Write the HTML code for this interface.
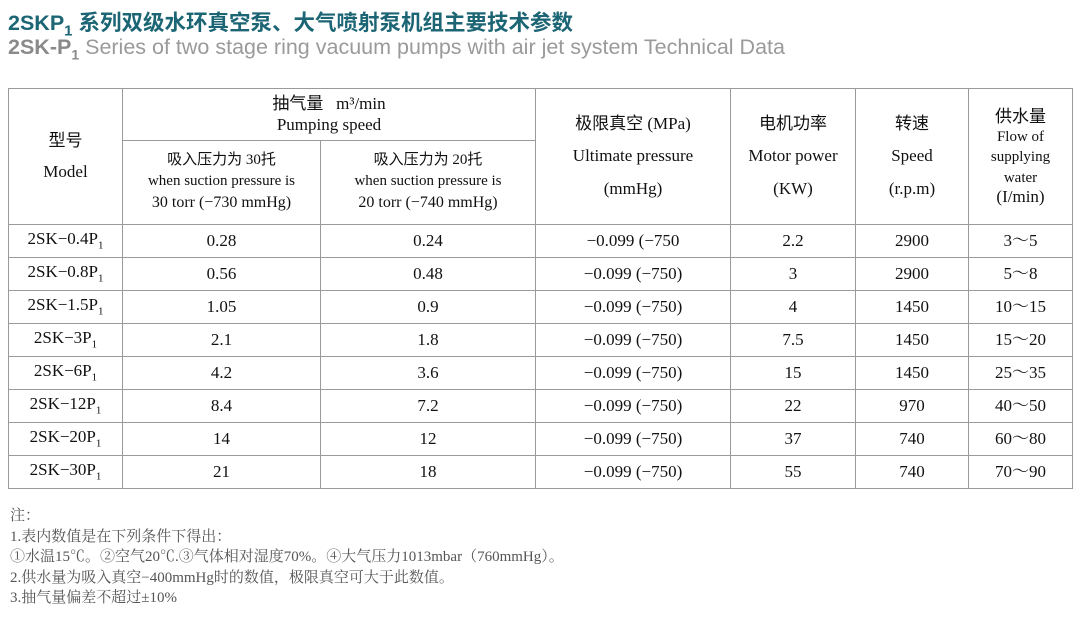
<!DOCTYPE html>
<html><head><meta charset="utf-8"><style>
body{margin:0;width:1090px;height:617px;background:#fff;position:relative;overflow:hidden;font-family:"Liberation Serif","Noto Serif CJK SC",serif;color:#111}
.t1{position:absolute;left:8px;top:6px;font:bold 21.5px "Liberation Sans","Noto Sans CJK SC",sans-serif;color:#1b6574;white-space:nowrap}
.t2{position:absolute;left:8px;top:35px;font:21.5px "Liberation Sans",sans-serif;color:#9a9a9a;white-space:nowrap}
.t2 b{color:#8a8a8a}
table{position:absolute;left:8px;top:88px;border-collapse:collapse;table-layout:fixed}
td{border:1.5px solid #9a9a9a;text-align:center;padding:0;font-size:17px;line-height:1.2;white-space:nowrap}
.s{font-size:15px;line-height:1.4}
.c{font-family:"Liberation Serif","Noto Sans CJK SC",serif}
.r td{height:32px}
sub{font-size:11px}
.n{position:absolute;left:10px;top:506px;font-size:15px;color:#555;line-height:20.5px;white-space:nowrap}
</style></head><body>
<div class="t1">2SKP<sub style="font-size:15px">1</sub> 系列双级水环真空泵、大气喷射泵机组主要技术参数</div>
<div class="t2"><b style="font-weight:bold">2SK-P<sub style="font-size:14px">1</sub></b> Series of two stage ring vacuum pumps with air jet system Technical Data</div>
<table>
<colgroup><col style="width:114px"><col style="width:198px"><col style="width:215px"><col style="width:195px"><col style="width:125px"><col style="width:113px"><col style="width:104px"></colgroup>
<tr style="height:52px"><td rowspan="2" style="line-height:1.8"><span class="c">型号</span><br>Model</td><td colspan="2"><span class="c">抽气量</span>&nbsp;&nbsp; m³/min<br>Pumping speed</td>
<td rowspan="2" style="line-height:1.9"><span class="c">极限真空</span> (MPa)<br>Ultimate pressure<br>(mmHg)</td>
<td rowspan="2" style="line-height:1.9"><span class="c">电机功率</span><br>Motor power<br>(KW)</td>
<td rowspan="2" style="line-height:1.9"><span class="c">转速</span><br>Speed<br>(r.p.m)</td>
<td rowspan="2" style="line-height:1.15"><span class="c">供水量</span><br><span style="font-size:15px">Flow of<br>supplying<br>water</span><br>(I/min)</td></tr>
<tr style="height:84px"><td class="s"><span class="c">吸入压力为</span> 30<span class="c">托</span><br>when suction pressure is<br><span style="font-size:16px">30 torr (−730 mmHg)</span></td><td class="s"><span class="c">吸入压力为</span> 20<span class="c">托</span><br>when suction pressure is<br><span style="font-size:16px">20 torr (−740 mmHg)</span></td></tr>
<tr class="r"><td>2SK−0.4P<sub>1</sub></td><td>0.28</td><td>0.24</td><td>−0.099 (−750</td><td>2.2</td><td>2900</td><td>3～5</td></tr>
<tr class="r"><td>2SK−0.8P<sub>1</sub></td><td>0.56</td><td>0.48</td><td>−0.099 (−750)</td><td>3</td><td>2900</td><td>5～8</td></tr>
<tr class="r"><td>2SK−1.5P<sub>1</sub></td><td>1.05</td><td>0.9</td><td>−0.099 (−750)</td><td>4</td><td>1450</td><td>10～15</td></tr>
<tr class="r"><td>2SK−3P<sub>1</sub></td><td>2.1</td><td>1.8</td><td>−0.099 (−750)</td><td>7.5</td><td>1450</td><td>15～20</td></tr>
<tr class="r"><td>2SK−6P<sub>1</sub></td><td>4.2</td><td>3.6</td><td>−0.099 (−750)</td><td>15</td><td>1450</td><td>25～35</td></tr>
<tr class="r"><td>2SK−12P<sub>1</sub></td><td>8.4</td><td>7.2</td><td>−0.099 (−750)</td><td>22</td><td>970</td><td>40～50</td></tr>
<tr class="r"><td>2SK−20P<sub>1</sub></td><td>14</td><td>12</td><td>−0.099 (−750)</td><td>37</td><td>740</td><td>60～80</td></tr>
<tr class="r"><td>2SK−30P<sub>1</sub></td><td>21</td><td>18</td><td>−0.099 (−750)</td><td>55</td><td>740</td><td>70～90</td></tr>
</table>
<div class="n">注：<br>1.表内数值是在下列条件下得出：<br>①水温15℃。②空气20℃.③气体相对湿度70%。④大气压力1013mbar（760mmHg）。<br>2.供水量为吸入真空−400mmHg时的数值，极限真空可大于此数值。<br>3.抽气量偏差不超过±10%</div>
</body></html>
